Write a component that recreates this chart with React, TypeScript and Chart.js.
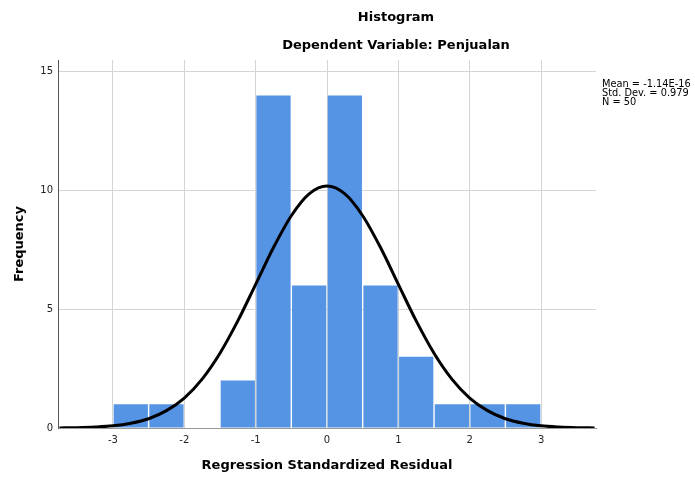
import React, { useEffect, useRef } from "react";
import { Chart, registerables } from "chart.js";

Chart.register(...registerables);

// Histogram bins (centers) and frequencies
const binCenters = [-2.75, -2.25, -1.75, -1.25, -0.75, -0.25, 0.25, 0.75, 1.25, 1.75, 2.25, 2.75];
const frequencies = [1, 1, 0, 2, 14, 6, 14, 6, 3, 1, 1, 1];

// Normal curve
const curveX = [-3.75, -3.5, -3.25, -3, -2.75, -2.5, -2.25, -2, -1.75, -1.5, -1.25, -1, -0.75, -0.5, -0.25, 0,
  0.25, 0.5, 0.75, 1, 1.25, 1.5, 1.75, 2, 2.25, 2.5, 2.75, 3, 3.25, 3.5, 3.75];
const curveY = [0.005, 0.015, 0.04, 0.09, 0.2, 0.39, 0.73, 1.26, 2.06, 3.15, 4.51, 6.05, 7.6, 8.94, 9.86, 10.19,
  9.86, 8.94, 7.6, 6.05, 4.51, 3.15, 2.06, 1.26, 0.73, 0.39, 0.2, 0.09, 0.04, 0.015, 0.005];

const xTicks = [-3, -2, -1, 0, 1, 2, 3];
const yTicks = [0, 5, 10, 15];

const titleText = "Histogram";
const subtitleText = "Dependent Variable: Penjualan";
const xTitle = "Regression Standardized Residual";
const yTitle = "Frequency";
const statsLines = ["Mean = -1.14E-16", "Std. Dev. = 0.979", "N = 50"];

const FONT = "'DejaVu Sans', sans-serif";

export default function App() {
  const ref = useRef<HTMLCanvasElement | null>(null);

  useEffect(() => {
    document.body.style.margin = "0";
    const canvas = ref.current;
    if (!canvas) return;

    const textPlugin = {
      id: "textPlugin",
      afterDraw(chart: any) {
        const ctx = chart.ctx;
        const area = chart.chartArea;
        ctx.save();
        ctx.fillStyle = "#000";
        ctx.textBaseline = "middle";
        ctx.textAlign = "center";
        ctx.font = `bold 13px ${FONT}`;
        ctx.fillText(titleText, 396, 18);
        ctx.fillText(subtitleText, 396, 46);
        ctx.font = `bold 13px ${FONT}`;
        ctx.fillText(xTitle, (area.left + area.right) / 2, 466);
        ctx.save();
        ctx.translate(20, (area.top + area.bottom) / 2);
        ctx.rotate(-Math.PI / 2);
        ctx.font = `bold 13px ${FONT}`;
        ctx.fillText(yTitle, 0, 0);
        ctx.restore();
        ctx.textAlign = "left";
        ctx.font = `9.8px ${FONT}`;
        statsLines.forEach((s, i) => {
          ctx.fillText(s, 602, 84 + i * 9.4);
        });
        ctx.restore();
      },
    };

    const chart = new Chart(canvas, {
      type: "bar",
      data: {
        datasets: [
          {
            type: "line",
            data: curveX.map((x, i) => ({ x, y: curveY[i] })),
            borderColor: "#000",
            borderWidth: 3,
            pointRadius: 0,
            cubicInterpolationMode: "monotone",
            fill: false,
            order: 0,
          } as any,
          {
            type: "bar",
            data: binCenters.map((x, i) => ({ x, y: frequencies[i] })),
            backgroundColor: "#5594e4",
            borderWidth: 0,
            barPercentage: 0.96,
            categoryPercentage: 1,
            order: 1,
          } as any,
        ],
      },
      options: {
        responsive: false,
        animation: false,
        layout: { padding: { left: 0, top: 60, right: 99, bottom: 0 } },
        plugins: {
          legend: { display: false },
          tooltip: { enabled: false },
          title: { display: false },
        },
        scales: {
          x: {
            type: "linear",
            min: -3.77,
            max: 3.77,
            offset: false,
            afterBuildTicks: (scale: any) => {
              scale.ticks = xTicks.map((v) => ({ value: v }));
            },
            afterFit: (scale: any) => {
              scale.height = 50;
            },
            grid: { color: "#d4d4d4", lineWidth: 1, drawTicks: false, offset: false },
            border: { color: "#999", width: 1 },
            ticks: {
              padding: 6,
              maxRotation: 0,
              autoSkip: false,
              color: "#222",
              font: { family: FONT, size: 10 },
            },
          },
          y: {
            min: 0,
            max: 15.5,
            afterBuildTicks: (scale: any) => {
              scale.ticks = yTicks.map((v) => ({ value: v }));
            },
            afterFit: (scale: any) => {
              scale.width = 58;
            },
            grid: { color: "#d4d4d4", lineWidth: 1, drawTicks: false },
            border: { color: "#555", width: 1 },
            ticks: {
              padding: 5,
              color: "#222",
              font: { family: FONT, size: 10 },
            },
          },
        },
      } as any,
      plugins: [textPlugin],
    });

    return () => chart.destroy();
  }, []);

  return (
    <div style={{ width: 695, height: 478, background: "#fff" }}>
      <canvas ref={ref} width={695} height={478} />
    </div>
  );
}
